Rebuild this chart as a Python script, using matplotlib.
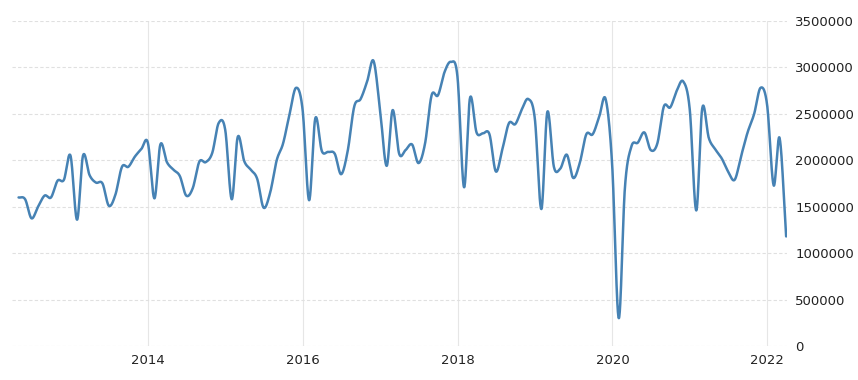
import numpy as np
import pandas as pd
import matplotlib
matplotlib.use("Agg")
import matplotlib.pyplot as plt
import matplotlib.dates as mdates
from matplotlib.ticker import FuncFormatter

# Monthly values (month-end), Apr 2012 .. Mar 2022
start_month = "2012-04-30"
values_millions = [
    1.60, 1.58, 1.375, 1.50, 1.62, 1.60, 1.78, 1.79, 2.05, 1.36,  # 2012-04 .. 2013-01
    2.05, 1.84, 1.76, 1.75, 1.51, 1.63, 1.93, 1.93, 2.04, 2.12,  # 2013-02 .. 2013-11
    2.19, 1.59, 2.17, 1.98, 1.90, 1.83, 1.62, 1.70, 1.985, 1.98,  # 2013-12 .. 2014-09
    2.08, 2.40, 2.33, 1.58, 2.25, 1.99, 1.90, 1.80, 1.49, 1.65,  # 2014-10 .. 2015-07
    2.00, 2.18, 2.50, 2.78, 2.55, 1.57, 2.45, 2.10, 2.09, 2.07,  # 2015-08 .. 2016-05
    1.85, 2.10, 2.58, 2.66, 2.85, 3.07, 2.54, 1.94, 2.54, 2.07,  # 2016-06 .. 2017-03
    2.11, 2.17, 1.97, 2.18, 2.70, 2.70, 2.95, 3.06, 2.90, 1.71,  # 2017-04 .. 2018-01
    2.67, 2.30, 2.29, 2.28, 1.88, 2.12, 2.40, 2.39, 2.55, 2.66,  # 2018-02 .. 2018-11
    2.45, 1.475, 2.52, 1.93, 1.91, 2.06, 1.81, 1.97, 2.28, 2.28,  # 2018-12 .. 2019-09
    2.47, 2.66, 1.95, 0.30, 1.70, 2.15, 2.19, 2.30, 2.11, 2.18,  # 2019-10 .. 2020-07
    2.58, 2.57, 2.75, 2.85, 2.55, 1.46, 2.56, 2.24, 2.12, 2.02,  # 2020-08 .. 2021-05
    1.88, 1.79, 2.05, 2.30, 2.50, 2.78, 2.60, 1.73, 2.24, 1.18,  # 2021-06 .. 2022-03
]
values = np.array(values_millions) * 1_000_000
dates = pd.date_range(start_month, periods=len(values), freq="ME")

y_ticks = [0, 500000, 1000000, 1500000, 2000000, 2500000, 3000000, 3500000]
x_tick_years = [2014, 2016, 2018, 2020, 2022]

line_color = "#4682b4"


def catmull_rom(x, y, n=24):
    """Smooth a polyline through the points (cubic Hermite, Catmull-Rom tangents)."""
    x = np.asarray(x, float)
    y = np.asarray(y, float)
    m = np.zeros_like(y)
    m[1:-1] = (y[2:] - y[:-2]) / (x[2:] - x[:-2])
    m[0] = (y[1] - y[0]) / (x[1] - x[0])
    m[-1] = (y[-1] - y[-2]) / (x[-1] - x[-2])
    xs, ys = [], []
    for i in range(len(x) - 1):
        h = x[i + 1] - x[i]
        t = np.linspace(0, 1, n, endpoint=False)
        h00 = 2 * t**3 - 3 * t**2 + 1
        h10 = t**3 - 2 * t**2 + t
        h01 = -2 * t**3 + 3 * t**2
        h11 = t**3 - t**2
        xs.append(x[i] + t * h)
        ys.append(h00 * y[i] + h10 * h * m[i] + h01 * y[i + 1] + h11 * h * m[i + 1])
    xs.append([x[-1]])
    ys.append([y[-1]])
    return np.concatenate(xs), np.concatenate(ys)


xnum = mdates.date2num(dates.to_pydatetime())
xs, ys = catmull_rom(xnum, values)

fig = plt.figure(figsize=(8.58, 3.80), dpi=100)
ax = fig.add_axes([12 / 858, 1 - 346 / 380, (787 - 12) / 858, (346 - 21) / 380])

ax.plot(xs, ys, color=line_color, lw=1.8, solid_capstyle="round", zorder=3)

ax.set_ylim(0, 3500000)
ax.set_xlim(mdates.date2num(pd.Timestamp("2012-03-30")),
            mdates.date2num(pd.Timestamp("2022-04-04")))

ax.set_yticks(y_ticks)
ax.yaxis.set_major_formatter(FuncFormatter(lambda v, p: f"{int(v)}"))
ax.yaxis.tick_right()
ax.set_xticks([mdates.date2num(pd.Timestamp(f"{yr}-01-01")) for yr in x_tick_years])
ax.set_xticklabels([str(yr) for yr in x_tick_years])

ax.tick_params(axis="both", length=0, labelsize=9.5, colors="#222222")
ax.tick_params(axis="y", pad=6)
ax.tick_params(axis="x", pad=6)
for lbl in ax.get_yticklabels():
    lbl.set_horizontalalignment("left")

ax.yaxis.grid(True, color="#e0e0e0", lw=0.8, linestyle=(0, (3, 2)))
ax.xaxis.grid(True, color="#e6e6e6", lw=0.8)
ax.set_axisbelow(True)
for s in ax.spines.values():
    s.set_visible(False)

fig.savefig("out.png", dpi=100)
